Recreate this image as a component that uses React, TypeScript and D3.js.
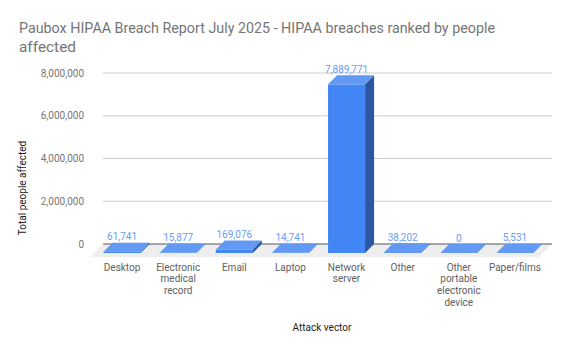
import React from 'react';
import * as d3 from 'd3';

const categories = [
  'Desktop',
  'Electronic medical record',
  'Email',
  'Laptop',
  'Network server',
  'Other',
  'Other portable electronic device',
  'Paper/films',
];
const peopleAffected = [61741, 15877, 169076, 14741, 7889771, 38202, 0, 5531];
const yTicks = [0, 2000000, 4000000, 6000000, 8000000];

const W = 570;
const H = 352;
const plot = { left: 103, right: 552, top: 73, bottom: 244 };
const depth = 9; // bar depth (px, diagonal)
const floorDepth = 13;
const font = 'Roboto, Arial, sans-serif';

const App: React.FC = () => {
  const x = d3
    .scaleBand<string>()
    .domain(categories)
    .range([plot.left, plot.right])
    .paddingInner(0.34)
    .paddingOuter(0.17);

  const y = d3
    .scaleLinear()
    .domain([0, 8000000])
    .range([plot.bottom, plot.top]);

  const fmt = d3.format(',');
  const bw = x.bandwidth();
  const y0 = y(0);
  const pts = (a: number[][]) => a.map((p) => p.join(',')).join(' ');

  return (
    <svg
      width={W}
      height={H}
      style={{ position: 'absolute', left: 0, top: 0, background: '#fff' }}
      fontFamily={font}
    >
      {/* title */}
      <text
        x={19}
        y={33}
        fontSize={15.5}
        fill="#757575"
        textLength={476}
        lengthAdjust="spacingAndGlyphs"
      >
        Paubox HIPAA Breach Report July 2025 - HIPAA breaches ranked by people
      </text>
      <text
        x={19}
        y={52}
        fontSize={15.5}
        fill="#757575"
        textLength={57}
        lengthAdjust="spacingAndGlyphs"
      >
        affected
      </text>

      {/* gridlines + y labels */}
      {yTicks.map((t) => (
        <g key={t}>
          {t !== 0 && (
            <line
              x1={plot.left}
              x2={plot.right}
              y1={y(t)}
              y2={y(t)}
              stroke="#cccccc"
              strokeWidth={1}
            />
          )}
          <text
            x={84}
            y={y(t)}
            dy="0.35em"
            textAnchor="end"
            fontSize={10}
            fill="#757575"
          >
            {fmt(t)}
          </text>
        </g>
      ))}

      {/* floor */}
      <polygon
        points={pts([
          [plot.left, y0],
          [plot.right, y0],
          [plot.right - floorDepth, y0 + floorDepth],
          [plot.left - floorDepth, y0 + floorDepth],
        ])}
        fill="#eeeeee"
      />
      <line x1={plot.left} x2={plot.right} y1={y0} y2={y0} stroke="#555" strokeWidth={1} />

      {/* bars */}
      {categories.map((c, i) => {
        const v = peopleAffected[i];
        const xb = x(c) as number;
        const yv = y(v);
        const fx = xb - depth;
        const top = [
          [fx, yv + depth],
          [xb, yv],
          [xb + bw, yv],
          [fx + bw, yv + depth],
        ];
        const side = [
          [fx + bw, yv + depth],
          [xb + bw, yv],
          [xb + bw, y0],
          [fx + bw, y0 + depth],
        ];
        return (
          <g key={c}>
            <polygon points={pts(side)} fill="#2b57a2" />
            <rect x={fx} y={yv + depth} width={bw} height={y0 - yv} fill="#4285f4" />
            <polygon points={pts(top)} fill="#6299f3" />
            <text
              x={fx + bw / 2}
              y={yv - 2.5}
              textAnchor="middle"
              fontSize={10}
              fill="#6a9cf5"
            >
              {fmt(v)}
            </text>
          </g>
        );
      })}

      {/* category labels */}
      {categories.map((c) => {
        const cx = (x(c) as number) - depth + bw / 2;
        return (
          <text key={c} textAnchor="middle" fontSize={10} fill="#616161">
            {c.split(' ').map((w, j) => (
              <tspan key={j} x={cx} y={270.5 + j * 11.7}>
                {w}
              </tspan>
            ))}
          </text>
        );
      })}

      {/* axis titles */}
      <text x={322} y={331} textAnchor="middle" fontSize={10} fill="#222">
        Attack vector
      </text>
      <text
        transform="translate(26,188) rotate(-90)"
        textAnchor="middle"
        fontSize={10}
        fill="#222"
      >
        Total people affected
      </text>
    </svg>
  );
};

export default App;
